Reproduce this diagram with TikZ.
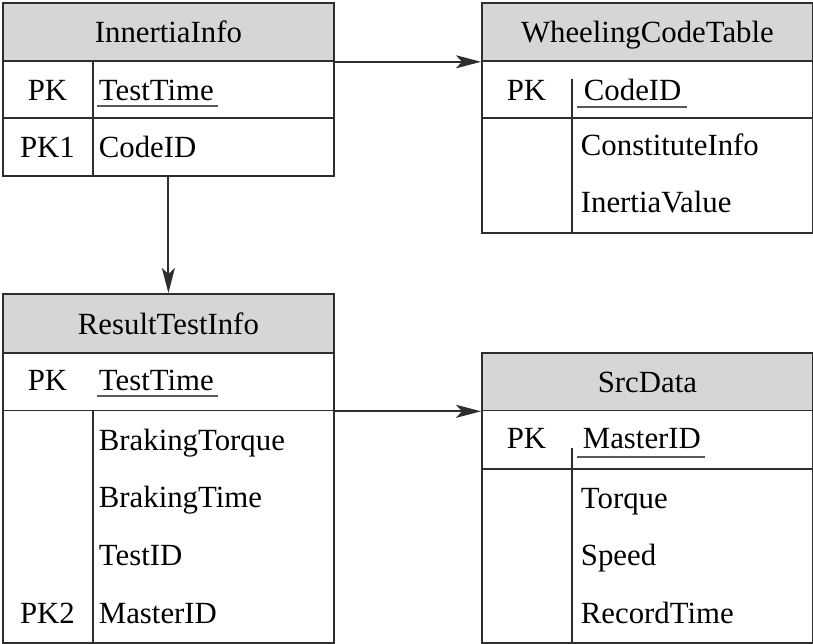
\documentclass[tikz,border=0pt]{standalone}
\usepackage{fontspec}
\setmainfont{Liberation Serif}
\usepackage{tikz}
\usetikzlibrary{arrows.meta}
\definecolor{linegray}{gray}{0.18}
\definecolor{headgray}{gray}{0.84}

\begin{document}
\begin{tikzpicture}[x=0.5pt, y=-0.5pt, line width=0.9pt, draw=linegray,
  font=\fontsize{15.4}{18}\selectfont]
\tikzstyle{head}=[draw, fill=headgray, anchor=north west, minimum width=165.5pt, inner sep=0pt, text height=11pt, text depth=0pt]
\tikzstyle{cell}=[draw, anchor=north west, minimum width=165.5pt, inner sep=0pt]
\tikzstyle{key}=[anchor=base, inner sep=0pt]
\tikzstyle{field}=[anchor=base west, inner sep=0pt]
\tikzstyle{uline}=[line width=0.8pt, gray!70!black]
\useasboundingbox (0,0) rectangle (813,643);

% InnertiaInfo
\node[head, minimum height=29pt] (ih) at (2,2) {InnertiaInfo};
\node[cell, minimum height=28.5pt] (ik) at (2,60) {};
\node[cell, minimum height=29pt] (ib) at (2,117) {};
\draw (93,60) -- (93,175);
\node[key] (ik1) at (47.5,100) {PK};
\node[field] (itt) at (98,100) {TestTime};
\node[key] (ik2) at (47.5,157) {PK1};
\node[field] (icd) at (98,157) {CodeID};
\draw[uline] ([xshift=-0.5pt,yshift=-3pt]itt.base west) -- ([xshift=1.5pt,yshift=-3pt]itt.base east);

% WheelingCodeTable
\node[head, minimum height=29pt] (wh) at (481,2) {WheelingCodeTable};
\node[cell, minimum height=28.5pt] (wk) at (481,60) {};
\node[cell, minimum height=57.5pt] (wb) at (481,117) {};
\draw (572,79) -- (572,232);
\node[key] (wk1) at (526.5,100) {PK};
\node[field] (wcd) at (583,100) {CodeID};
\node[field] (wci) at (580,155) {ConstituteInfo};
\node[field] (wiv) at (580,212) {InertiaValue};
\draw[uline] ([xshift=-3pt,yshift=-3.5pt]wcd.base west) -- ([xshift=2.5pt,yshift=-3.5pt]wcd.base east);

% ResultTestInfo
\node[head, minimum height=29.5pt] (rh) at (2,293) {ResultTestInfo};
\node[cell, minimum height=28.75pt] (rk) at (2,352) {};
\node[cell, minimum height=116.25pt] (rb) at (2,409.5) {};
\draw (93,409.5) -- (93,642);
\node[key] (rk1) at (47.5,390) {PK};
\node[field] (rtt) at (98,390) {TestTime};
\node[field] (rbq) at (98,450) {BrakingTorque};
\node[field] (rbt) at (98,507) {BrakingTime};
\node[field] (rti) at (98,565) {TestID};
\node[key] (rk2) at (47.5,623) {PK2};
\node[field] (rmi) at (98,623) {MasterID};
\draw[uline] ([xshift=-0.5pt,yshift=-3pt]rtt.base west) -- ([xshift=1.5pt,yshift=-3pt]rtt.base east);

% SrcData
\node[head, minimum height=28.75pt] (sh) at (481,352) {SrcData};
\node[cell, minimum height=29.25pt] (sk) at (481,409.5) {};
\node[cell, minimum height=87pt] (sb) at (481,468) {};
\draw (572,448) -- (572,642);
\node[key] (sk1) at (526.5,448) {PK};
\node[field] (smi) at (582,448) {MasterID};
\node[field] (stq) at (580,508) {Torque};
\node[field] (ssp) at (580,565) {Speed};
\node[field] (srt) at (580,623) {RecordTime};
\draw[uline] ([xshift=-2.5pt,yshift=-4.5pt]smi.base west) -- ([xshift=1.5pt,yshift=-4.5pt]smi.base east);

\path[every edge/.style={draw=linegray, line width=1pt,
  -{Stealth[length=12.5pt, width=6.5pt, inset=3pt]}}]
(ih.south east) edge (wh.south west)
(ib.south) edge (rh.north)
(rk.south east) edge (sh.south west);

\end{tikzpicture}
\end{document}
